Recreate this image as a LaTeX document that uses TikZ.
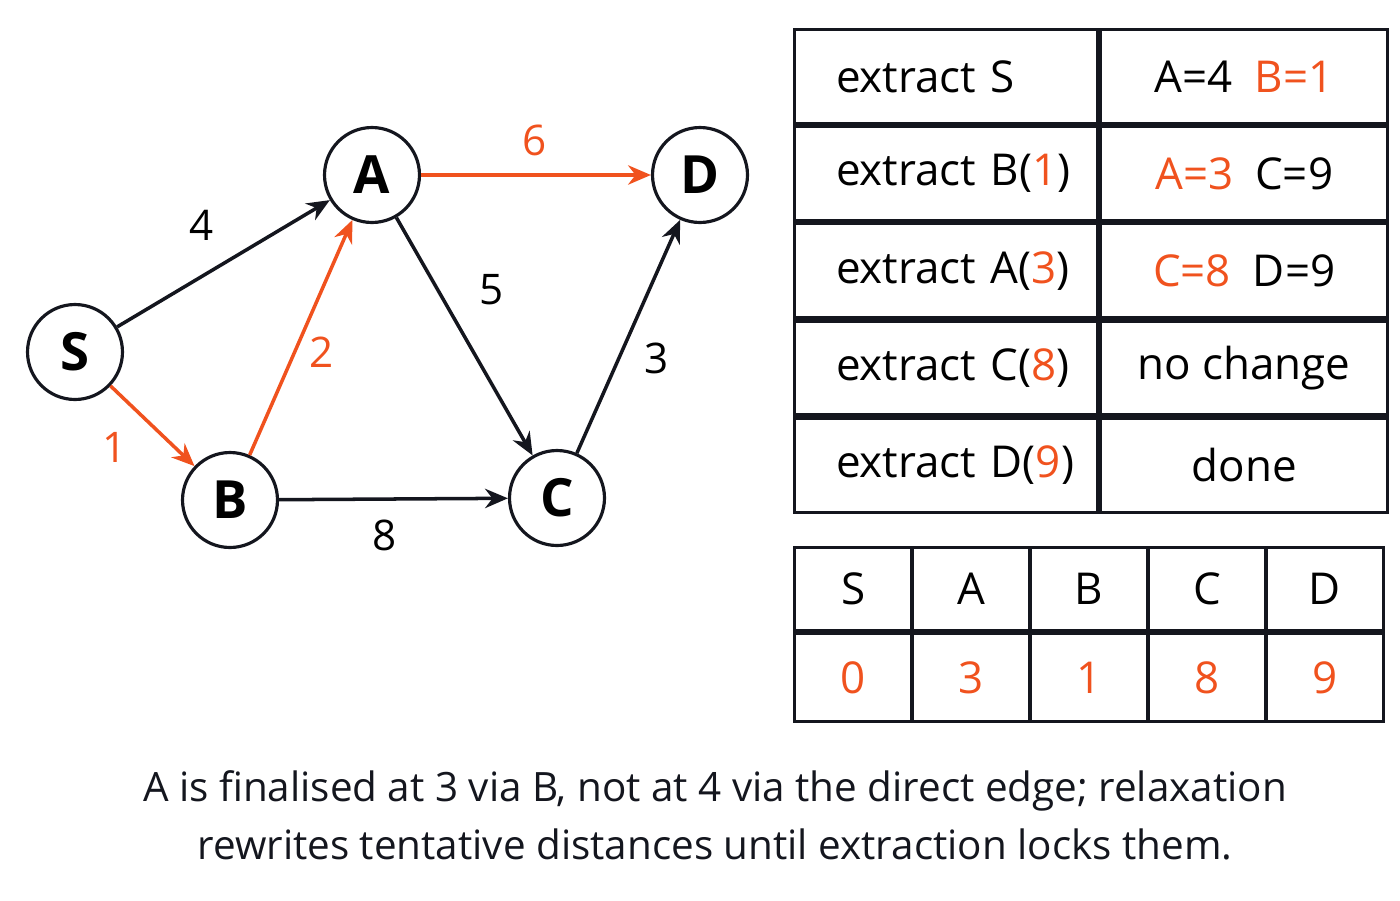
\documentclass[tikz,border=0pt]{standalone}
\usepackage{fontspec}
\setmainfont{Open Sans}
\usetikzlibrary{arrows.meta,positioning}
\definecolor{hot}{RGB}{240,82,30}
\definecolor{ink}{RGB}{20,22,30}
\begin{document}
\begin{tikzpicture}[x=0.02cm,y=-0.02cm,line width=1.8pt,
  vertex/.style={circle,draw=ink,fill=white,minimum size=1.9cm,inner sep=0pt,font=\fontsize{30}{34}\selectfont\bfseries},
  edge/.style={-{Stealth[length=13pt,width=11pt]},ink,line width=2pt},
  hotedge/.style={edge,hot},
  elabel/.style={font=\fontsize{24}{28}\selectfont},
  cell/.style={draw=ink,minimum height=1.88cm,inner sep=0pt,font=\fontsize{25}{30}\selectfont},
  wide/.style={cell,minimum width=6.06cm,text width=5.2cm,align=left},
  narrow/.style={cell,minimum width=5.74cm},
  dcell/.style={draw=ink,inner sep=0pt,minimum width=2.35cm,font=\fontsize{25}{30}\selectfont}]
\useasboundingbox (0,0) rectangle (1400,900);

% Graph vertices
\node[vertex] (S) at (75,352) {S};
\node[vertex] (A) at (372,175) {A};
\node[vertex] (D) at (700,175) {D};
\node[vertex] (B) at (230,500) {B};
\node[vertex] (C) at (557,498) {C};

% Edges
\draw[edge] (S) -- (A); \draw[edge] (A) -- (C); \draw[edge] (B) -- (C); \draw[edge] (C) -- (D);
\draw[hotedge] (S) -- (B); \draw[hotedge] (B) -- (A); \draw[hotedge] (A) -- (D);

% Edge weights
\node[elabel] (w4) at (202,225) {4};
\node[elabel,text=hot] (w1) at (115,447) {1};
\node[elabel,text=hot] (w2) at (322,352) {2};
\node[elabel,text=hot] (w6) at (535,140) {6};
\node[elabel] (w5) at (492,290) {5};
\node[elabel] (w8) at (385,535) {8};
\node[elabel] (w3) at (657,358) {3};

% Extraction table
\node[wide,anchor=north west] (e1) at (793,28) {\hspace*{0.4cm}extract S};
\node[narrow,anchor=west] (r1) at (e1.east) {A=4\enspace\textcolor{hot}{B=1}};
\node[wide,anchor=north] (e2) at (e1.south) {\hspace*{0.4cm}extract B(\textcolor{hot}{1})};
\node[narrow,anchor=west] (r2) at (e2.east) {\textcolor{hot}{A=3}\enspace C=9};
\node[wide,anchor=north] (e3) at (e2.south) {\hspace*{0.4cm}extract A(\textcolor{hot}{3})};
\node[narrow,anchor=west] (r3) at (e3.east) {\textcolor{hot}{C=8}\enspace D=9};
\node[wide,anchor=north] (e4) at (e3.south) {\hspace*{0.4cm}extract C(\textcolor{hot}{8})};
\node[narrow,anchor=west] (r4) at (e4.east) {no change};
\node[wide,anchor=north] (e5) at (e4.south) {\hspace*{0.4cm}extract D(\textcolor{hot}{9})};
\node[narrow,anchor=west] (r5) at (e5.east) {done};

% Distance table
\foreach \n [count=\i from 0] in {S,A,B,C,D} {
  \node[dcell,minimum height=1.66cm,anchor=north west] (h\n) at (793+117.9*\i,546) {\n};
}
\foreach \n/\v in {S/0,A/3,B/1,C/8,D/9} {
  \node[dcell,minimum height=1.76cm,anchor=north,text=hot] (d\n) at (h\n.south) {\v};
}

% Caption
\node[font=\fontsize{23}{33}\selectfont,align=center,text=ink] (note) at (715,815)
  {A is finalised at 3 via B, not at 4 via the direct edge; relaxation\\
   rewrites tentative distances until extraction locks them.};
\end{tikzpicture}
\end{document}
